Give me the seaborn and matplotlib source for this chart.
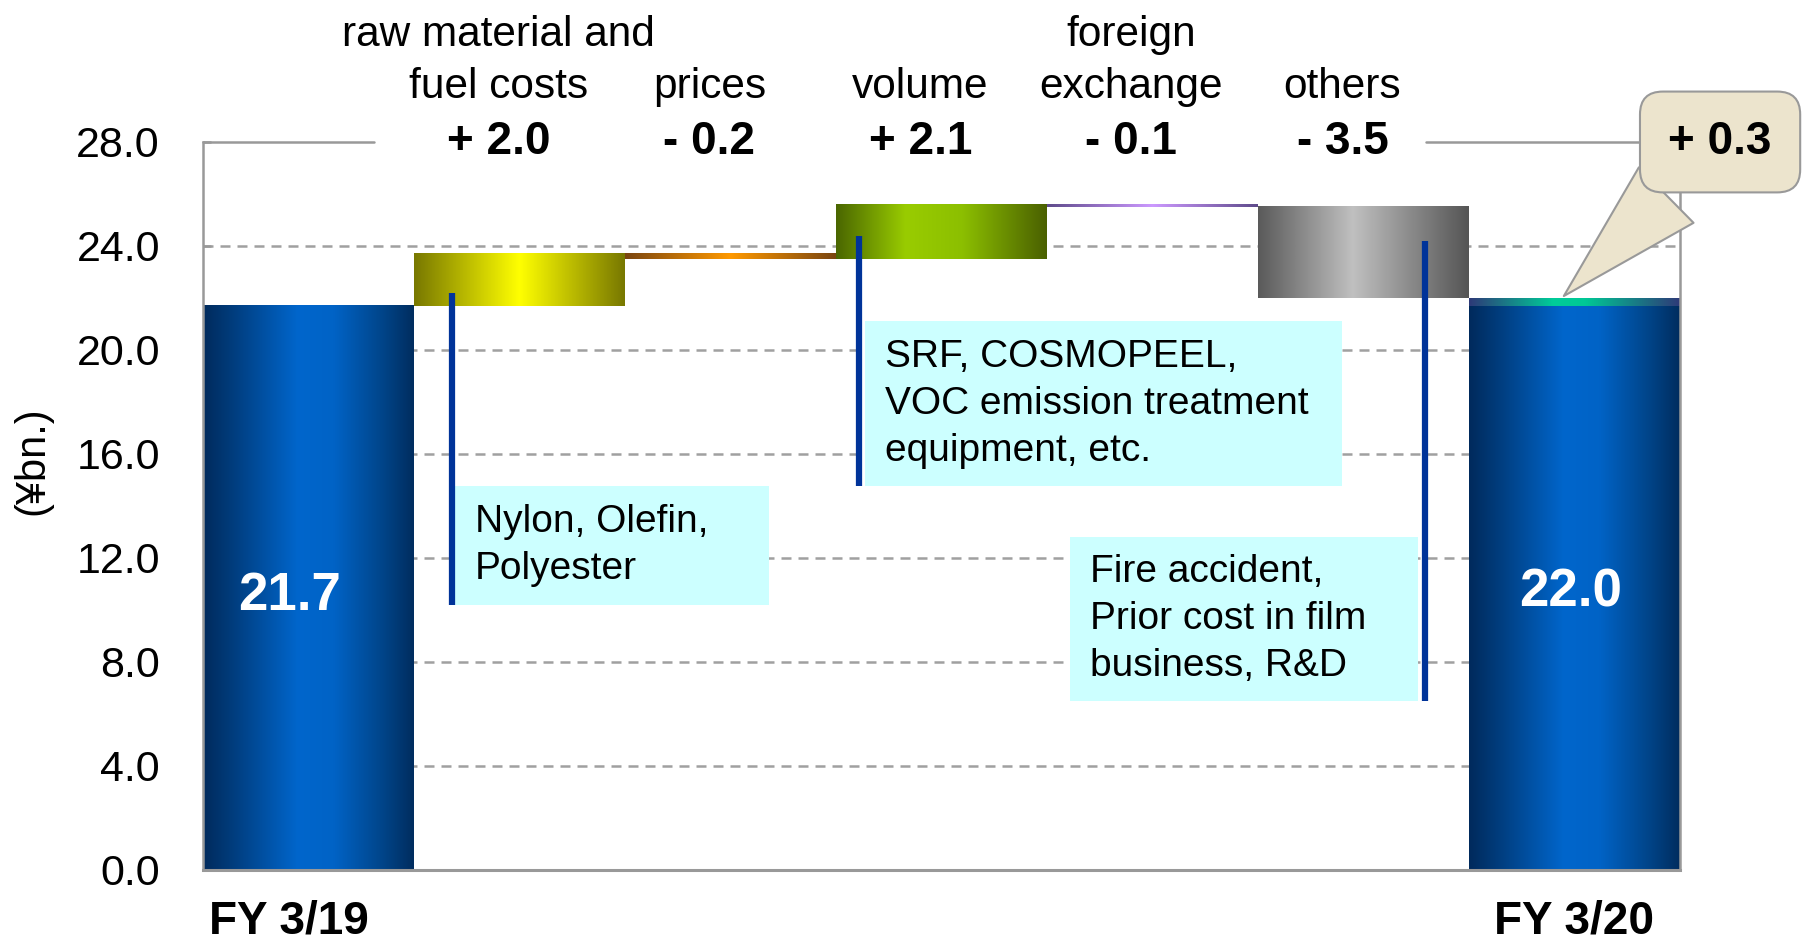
import numpy as np
import pandas as pd
import seaborn as sns
import matplotlib.pyplot as plt
import matplotlib.transforms as mtransforms
from matplotlib.colors import LinearSegmentedColormap
from matplotlib.patches import Rectangle

# --- data -------------------------------------------------------------
categories = ["FY 3/19", "raw material and\nfuel costs", "prices", "volume",
              "foreign\nexchange", "others", "FY 3/20"]
start_value = 21.7
deltas = [2.0, -0.2, 2.1, -0.1, -3.5]
end_value = 22.0
change = 0.3

notes = ["Nylon, Olefin,\nPolyester",
         "SRF, COSMOPEEL,\nVOC emission treatment\nequipment, etc.",
         "Fire accident,\nPrior cost in film\nbusiness, R&D"]

# layout of the note boxes (leader x, leader top, box x0, x1, y0, y1)
note_layout = [(0.68, 22.2, 0.694, 2.18, 10.2, 14.75),
               (2.61, 24.4, 2.637, 4.90, 14.75, 21.1),
               (5.29, 24.2, 3.61, 5.26, 6.5, 12.8)]

gradients = {
    "blue": [(0, "#002A5C"), (0.12, "#003A78"), (0.45, "#0066CC"), (0.62, "#0063C6"),
             (0.85, "#00458A"), (1, "#002D5F")],
    "yellow": [(0, "#787800"), (0.5, "#FFFF00"), (1, "#787800")],
    "orange": [(0, "#7A4510"), (0.5, "#FF9900"), (1, "#7A4510")],
    "green": [(0, "#4A6600"), (0.33, "#99CC00"), (0.6, "#8CBF00"), (1, "#4A6000")],
    "purple": [(0, "#5F4B8B"), (0.5, "#CC99FF"), (1, "#5F4B8B")],
    "gray": [(0, "#5A5A5A"), (0.45, "#C0C0C0"), (1, "#555555")],
    "teal": [(0, "#2E3A78"), (0.4, "#00CC99"), (0.55, "#00C896"), (1, "#2E3A78")],
}
bar_styles = ["blue", "yellow", "orange", "green", "purple", "gray", "blue"]

# running totals for the floating bars
bottoms, tops = [0.0], [start_value]
running = start_value
for d in deltas:
    new = round(running + d, 1)
    bottoms.append(min(running, new))
    tops.append(max(running, new))
    running = new
bottoms.append(0.0)
tops.append(start_value)

df = pd.DataFrame({"item": categories, "top": tops, "bottom": bottoms})
df_change = pd.DataFrame({"item": [categories[-1]], "top": [end_value],
                          "bottom": [end_value - change]})

sns.set_theme(style="white")
plt.rcParams["font.family"] = ["Liberation Sans", "DejaVu Sans"]
plt.rcParams["text.color"] = "black"
plt.rcParams["axes.labelcolor"] = "black"
plt.rcParams["xtick.color"] = "black"
plt.rcParams["ytick.color"] = "black"

fig = plt.figure(figsize=(18.08, 9.44), dpi=100)
ax = fig.add_axes([0.1123, 0.0784, 0.8169, 0.7712])

sns.barplot(data=df, x="item", y="top", order=categories, width=1.0,
            errorbar=None, color="#0066CC", saturation=1, linewidth=0, ax=ax)
sns.barplot(data=df_change, x="item", y="top", order=categories, width=1.0,
            errorbar=None, color="#00CC99", saturation=1, linewidth=0, ax=ax)

patches = list(ax.patches)
all_bottoms = bottoms + [end_value - change]
styles = bar_styles + ["teal"]
grad = np.linspace(0, 1, 256).reshape(1, -1)
for p, b, st in zip(patches, all_bottoms, styles):
    top = p.get_height()
    p.set_y(b)
    p.set_height(top - b)
    cmap = LinearSegmentedColormap.from_list(st, gradients[st])
    x0 = p.get_x()
    ax.imshow(grad, cmap=cmap, aspect="auto", interpolation="bicubic",
              extent=[x0, x0 + p.get_width(), b, top], zorder=2)

ax.set_xlim(-0.5, len(categories) - 0.5)
ax.set_ylim(0, 28)

# grid and frame
gray = "#999999"
yt = np.arange(0, 29, 4)
ax.set_yticks(yt)
ax.set_yticklabels([f"{v:.1f}" for v in yt])
ax.hlines(yt[1:-1], -0.5, len(categories) - 0.5, colors="#A0A0A0", lw=1.8,
          linestyles=(0, (4, 2.8)), zorder=0.5)
for s in ["left", "right", "bottom"]:
    ax.spines[s].set_color(gray)
    ax.spines[s].set_linewidth(1.8)
ax.spines["bottom"].set_linewidth(2.2)
ax.spines["top"].set_visible(False)
ax.axhline(28, xmin=0, xmax=0.116, color=gray, lw=1.8, clip_on=False)
ax.axhline(28, xmin=0.828, xmax=1, color=gray, lw=1.8, clip_on=False)

ax.tick_params(axis="y", direction="in", length=6, width=1.8, color=gray,
               labelsize=31, pad=31, labelcolor="black", left=True)
ax.set_xticks(range(len(categories)))
ax.set_xticklabels([categories[0]] + [""] * 5 + [categories[-1]],
                   fontsize=33, fontweight="bold")
ax.tick_params(axis="x", length=0, pad=21)
first = ax.get_xticklabels()[0]
first.set_transform(first.get_transform() +
                    mtransforms.ScaledTranslation(-0.2, 0, fig.dpi_scale_trans))
ax.set_xlabel("")
ax.set_ylabel("(¥bn.)", fontsize=30)
ax.yaxis.set_label_coords(-0.102, 0.562)

# headers and deltas
for i, d in enumerate(deltas, start=1):
    ax.text(i - 0.1, 29.7, categories[i], ha="center", va="baseline",
            fontsize=30.5, linespacing=1.38, clip_on=False)
    sign = "+" if d > 0 else "-"
    ax.text(i - 0.1, 28, f"{sign} {abs(d):.1f}", ha="center", va="center",
            fontsize=33, fontweight="bold", clip_on=False)

# totals inside the bars
for i, v, dx in [(0, start_value, -0.09), (len(categories) - 1, end_value, -0.02)]:
    ax.text(i + dx, v * 0.485, f"{v:.1f}", ha="center", va="center",
            color="white", fontsize=38, fontweight="bold", zorder=5)

# note boxes with leader lines
for txt, (lx, ly, x0, x1, y0, y1) in zip(notes, note_layout):
    ax.add_patch(Rectangle((x0, y0), x1 - x0, y1 - y0, fc="#CCFFFF", ec="none", zorder=3))
    ax.plot([lx, lx], [y0, ly], color="#003399", lw=4.5, solid_capstyle="butt", zorder=4)
    ax.text(x0 + 0.095, (y0 + y1) / 2, txt, ha="left", va="center",
            fontsize=28, linespacing=1.4, zorder=5)

# callout for the overall change
ax.annotate(f"+ {change:.1f}", xy=(len(categories) - 1 - 0.06, end_value),
            xytext=(6.69, 28), ha="center", va="center", fontsize=33,
            fontweight="bold", annotation_clip=False, zorder=10,
            bbox=dict(boxstyle="round,pad=0.62,rounding_size=0.5", fc="#ECE4CD",
                      ec="#999999", lw=1.5),
            arrowprops=dict(arrowstyle="wedge,tail_width=1.7,shrink_factor=0.5",
                            fc="#ECE4CD", ec="#999999", lw=1.5))

fig.savefig("out.png", dpi=100)
